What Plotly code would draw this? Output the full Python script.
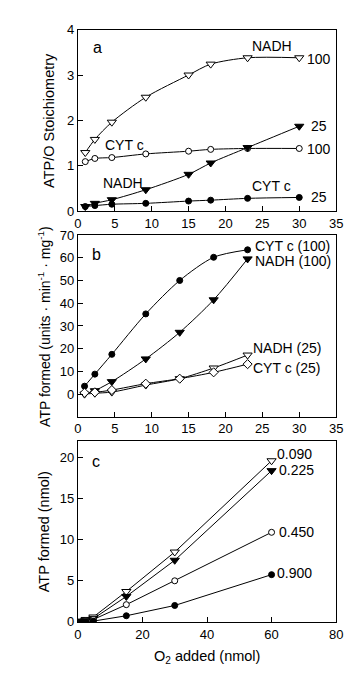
import plotly.graph_objects as go

# ---------- Panel a : ATP/O stoichiometry ----------
a_x = [1, 2.3, 4.6, 9.2, 15, 18, 23, 30]
a_nadh_100 = [1.29, 1.58, 1.96, 2.51, 3.0, 3.24, 3.38, 3.38]
a_cytc_100 = [1.09, 1.16, 1.18, 1.26, 1.32, 1.36, 1.38, 1.38]
a_nadh_25 = [0.10, 0.17, 0.25, 0.47, 0.81, 1.06, 1.40, 1.87]
a_cytc_25 = [0.10, 0.12, 0.15, 0.17, 0.22, 0.24, 0.28, 0.30]

# ---------- Panel b : ATP formed (units/min/mg) ----------
b_x = [0.9, 2.3, 4.6, 9.2, 13.8, 18.4, 23]
b_cytc_100 = [3.5, 8.8, 17.5, 35.3, 50.0, 60.2, 63.5]
b_nadh_100_x = [2.3, 4.6, 9.2, 13.8, 18.4, 23]
b_nadh_100 = [1.5, 5.5, 15.5, 27.2, 41.5, 59.5]
b_nadh_25 = [0.0, 0.4, 0.9, 4.0, 6.8, 11.5, 17.2]
b_cytc_25 = [0.6, 0.8, 1.8, 4.6, 6.8, 9.6, 13.2]

# ---------- Panel c : ATP formed (nmol) vs O2 added ----------
c_x = [1.2, 2.4, 4.8, 15, 30, 60]
c_090 = [0.1, 0.3, 0.6, 3.7, 8.5, 19.6]
c_225 = [0.05, 0.2, 0.4, 3.1, 7.5, 18.4]
c_450 = [0.04, 0.15, 0.3, 2.1, 5.0, 10.9]
c_900 = [0.02, 0.05, 0.1, 0.75, 2.0, 5.75]

FONT = "Liberation Sans, Arial, sans-serif"
W, H = 355, 676

fig = go.Figure()


def add(x, y, ax, symbol, filled, size=8, shape="spline"):
    fig.add_trace(go.Scatter(
        x=x, y=y, mode="lines+markers",
        xaxis="x" + ax, yaxis="y" + ax,
        line=dict(color="black", width=1, shape=shape, smoothing=0.8),
        marker=dict(symbol=symbol, size=size,
                    color="black" if filled else "white",
                    line=dict(color="black", width=1)),
        showlegend=False, hoverinfo="skip"))


# panel a
add(a_x, a_nadh_100, "", "triangle-down", False)
add(a_x, a_cytc_100, "", "circle", False, size=6)
add(a_x, a_nadh_25, "", "triangle-down", True)
add(a_x, a_cytc_25, "", "circle", True, size=6)
# panel b
add(b_x, b_cytc_100, "2", "circle", True, size=6)
add(b_nadh_100_x, b_nadh_100, "2", "triangle-down", True)
add(b_x, b_nadh_25, "2", "triangle-down", False)
add(b_x, b_cytc_25, "2", "diamond", False, size=7)
# panel c
add(c_x, c_090, "3", "triangle-down", False, shape="linear")
add(c_x, c_225, "3", "triangle-down", True, shape="linear")
add(c_x, c_450, "3", "circle", False, size=6, shape="linear")
add(c_x, c_900, "3", "circle", True, size=6, shape="linear")


def py(pix):
    return 1 - pix / H


xdom = [68 / W, 334.5 / W]
axis_common = dict(showline=True, linecolor="black", linewidth=1, mirror=True,
                   ticks="inside", ticklen=5, tickcolor="black", showgrid=False,
                   zeroline=False, tickfont=dict(family=FONT, size=13, color="black"))

fig.update_layout(
    width=W, height=H, margin=dict(l=0, r=0, t=0, b=0),
    paper_bgcolor="white", plot_bgcolor="white",
    font=dict(family=FONT, size=13, color="black"),
    xaxis=dict(domain=xdom, range=[0, 35], tickvals=list(range(0, 36, 5)), anchor="y", **axis_common),
    yaxis=dict(domain=[py(200.5), py(15)], range=[0, 4], tickvals=[0, 1, 2, 3, 4], anchor="x", **axis_common),
    xaxis2=dict(domain=xdom, range=[0, 35], tickvals=list(range(0, 36, 5)), anchor="y2", **axis_common),
    yaxis2=dict(domain=[py(411), py(225)], range=[-10, 70], tickvals=list(range(0, 71, 10)), anchor="x2", **axis_common),
    xaxis3=dict(domain=xdom, range=[0, 80], tickvals=[0, 20, 40, 60, 80], anchor="y3", **axis_common),
    yaxis3=dict(domain=[py(620.7), py(435.7)], range=[0, 22], tickvals=[0, 5, 10, 15, 20], anchor="x3", **axis_common),
)

ann = []


def txt(x, y, text, size=14, xanchor="left", angle=0):
    ann.append(dict(x=x / W, y=py(y), xref="paper", yref="paper", text=text,
                    showarrow=False, xanchor=xanchor, yanchor="middle", textangle=angle,
                    font=dict(family=FONT, size=size, color="black")))


# panel letters
txt(82, 33, "a", size=16)
txt(81, 245, "b", size=16)
txt(80, 457, "c", size=16)
# panel a labels
txt(268, 31.5, "NADH", xanchor="center")
txt(302, 45, "100")
txt(307, 114, "25")
txt(302, 137, "100")
txt(116, 133, "CYT c", xanchor="center")
txt(115, 172, "NADH", xanchor="center")
txt(268, 175, "CYT c", xanchor="center")
txt(307, 186, "25")
# panel b labels
txt(249, 236, "CYT c (100)")
txt(249, 251.5, "NADH (100)")
txt(247, 340.5, "NADH (25)")
txt(247, 361.5, "CYT c (25)")
# panel c labels
txt(271, 448.5, "0.090")
txt(273, 465, "0.225")
txt(273, 528.5, "0.450")
txt(271.5, 570.5, "0.900")
# axis titles
txt(38, 107.5, "ATP/O Stoichiometry", size=14.5, xanchor="center", angle=-90)
txt(33, 318, "ATP formed (units · min<sup>-1</sup> · mg<sup>-1</sup>)", size=14, xanchor="center", angle=-90)
txt(33, 528, "ATP formed (nmol)", size=14.5, xanchor="center", angle=-90)
txt(201, 657, "O<sub>2</sub> added (nmol)", size=14.5, xanchor="center")

fig.update_layout(annotations=ann)
fig.write_html("out.html")
